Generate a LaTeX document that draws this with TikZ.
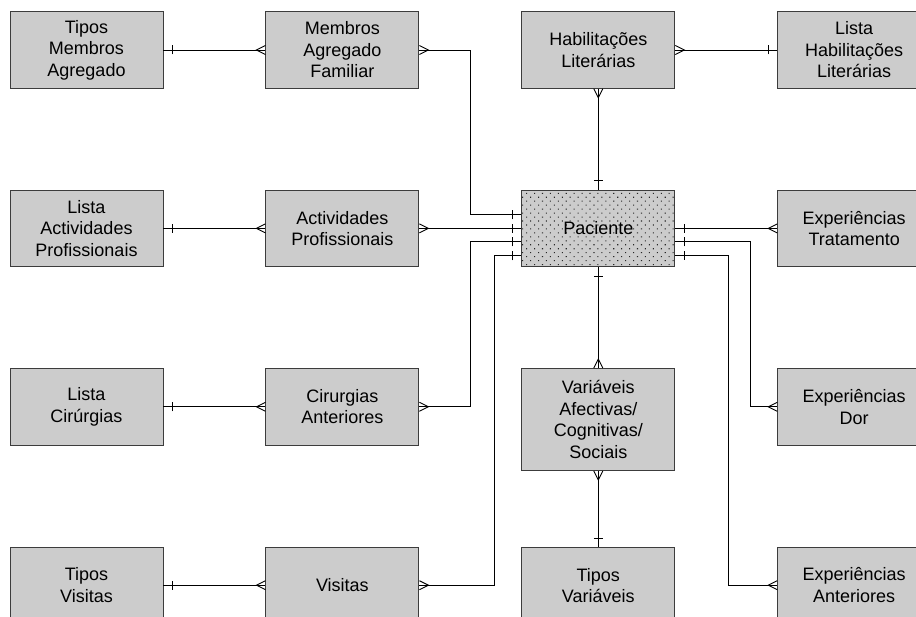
\documentclass[tikz,border=0pt]{standalone}
\usepackage{fontspec}
\setmainfont{Liberation Sans}
\usepackage{tikz}
\usetikzlibrary{positioning,calc,decorations.markings,patterns.meta}
\definecolor{boxgray}{RGB}{204,204,204}
\definecolor{edgegray}{RGB}{60,60,60}

\begin{document}
\begin{tikzpicture}[x=1pt,y=1pt,node distance=101pt and 102pt,line width=0.9pt,
	entity/.style={draw=edgegray,fill=boxgray,minimum width=153pt,minimum height=76.5pt,inner sep=2pt,align=center,font=\fontsize{18}{21.5}\selectfont},
	one/.style={postaction={decorate,decoration={markings,mark=at position #1 with {\draw (0,-4.5pt) -- (0,4.5pt);}}}},
	crowstart/.style={postaction={decorate,decoration={markings,mark=at position 0.0001 with {\draw (0,4.5pt) -- (9pt,0) -- (0,-4.5pt);}}}},
	crowend/.style={postaction={decorate,decoration={markings,mark=at position 0.9999 with {\draw (0,4.5pt) -- (-9pt,0) -- (0,-4.5pt);}}}}]
		\useasboundingbox (0,0) rectangle (916,-617);
		
		\node[entity] (tma) at (86.5,-50) {Tipos\\Membros\\Agregado};
		\node[entity] (maf) [right=of tma] {Membros\\Agregado\\Familiar};
		\node[entity] (hl) [right=of maf] {Habilitações\\Literárias};
		\node[entity] (lhl) [right=of hl] {Lista\\Habilitações\\Literárias};
		
		\node[entity] (lap) [below=of tma] {Lista\\Actividades\\Profissionais};
		\node[entity] (ap) [right=of lap] {Actividades\\Profissionais};
		\node[entity,postaction={pattern={Dots[distance=5.6pt,angle=45,radius=0.75pt]},pattern color=black!85}] (pac) [right=of ap] {Paciente};
		\node[entity] (et) [right=of pac] {Experiências\\Tratamento};
		
		\node[entity] (lc) [below=of lap] {Lista\\Cirúrgias};
		\node[entity] (ca) [right=of lc] {Cirurgias\\Anteriores};
		\node[entity,minimum height=102pt] (var) [right=of ca.north east,anchor=north west] {Variáveis\\Afectivas/\\Cognitivas/\\Sociais};
		\node[entity] (ed) [below=of et] {Experiências\\Dor};
		
		\node[entity] (tvi) [below=of lc] {Tipos\\Visitas};
		\node[entity] (vis) [right=of tvi] {Visitas};
		\node[entity] (tvar) [below=76pt of var] {Tipos\\Variáveis};
		\node[entity] (ea) [below=of ed] {Experiências\\Anteriores};
		
		\draw[one=9pt,crowend] (tma.east) -- (maf.west);
		\draw[one=9pt,crowend] (lap.east) -- (ap.west);
		\draw[one=9pt,crowend] (lc.east) -- (ca.west);
		\draw[one=9pt,crowend] (tvi.east) -- (vis.west);
		\draw[crowstart,one=-9pt] (hl.east) -- (lhl.west);
		
		\draw[crowstart,one=-9pt] (maf.east) -- ++(51,0) |- ([yshift=13.5pt]pac.west);
		\draw[crowstart,one=-9pt] (ap.east) -- (pac.west);
		\draw[crowstart,one=-9pt] (ca.east) -- ++(51,0) |- ([yshift=-13.5pt]pac.west);
		\draw[crowstart,one=-9pt] (vis.east) -- ++(75,0) |- ([yshift=-27.5pt]pac.west);
		\draw[crowstart,one=-9pt] (hl.south) -- (pac.north);
		
		\draw[one=9pt,crowend] (pac.east) -- (et.west);
		\draw[one=9pt,crowend] ([yshift=-13.5pt]pac.east) -- ++(75,0) |- (ed.west);
		\draw[one=9pt,crowend] ([yshift=-27pt]pac.east) -- ++(53,0) |- (ea.west);
		\draw[one=9pt,crowend] (pac.south) -- (var.north);
		\draw[crowstart,one=-9pt] (var.south) -- (tvar.north);
\end{tikzpicture}
\end{document}
